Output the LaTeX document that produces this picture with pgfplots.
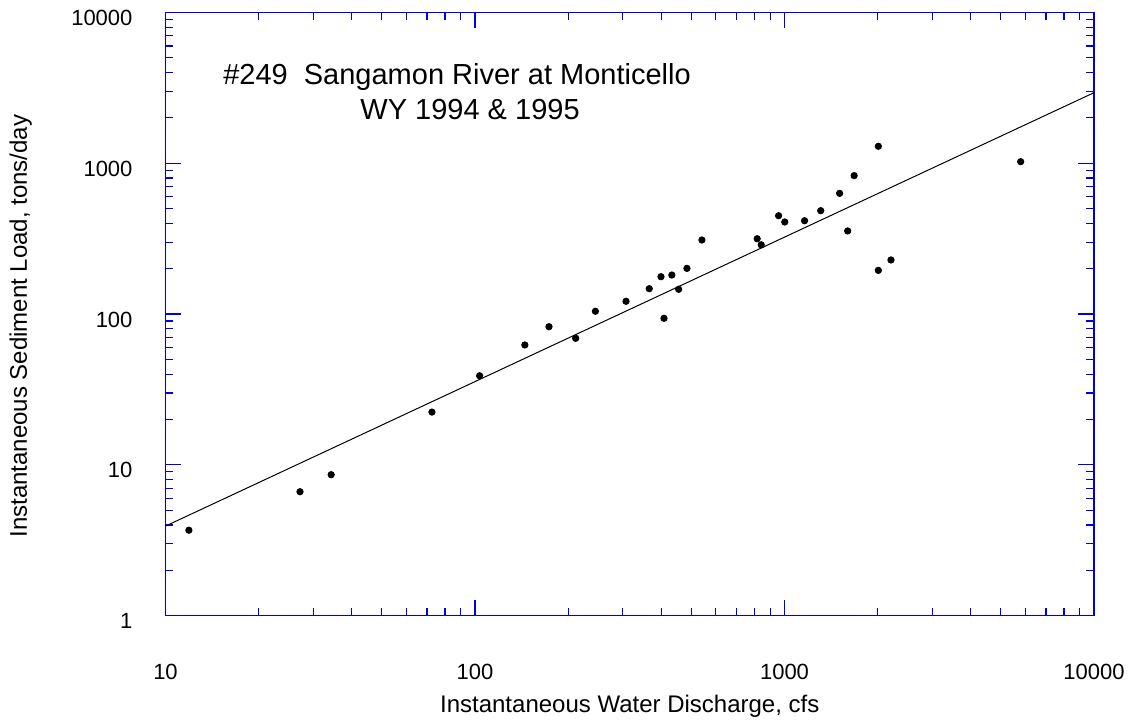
\documentclass[border=0pt]{standalone}
\usepackage{fontspec}
\setmainfont{Liberation Sans}
\usepackage{pgfplots}
\pgfplotsset{compat=1.18}

\definecolor{axblue}{RGB}{0,0,230}

\begin{document}
\begin{tikzpicture}
\begin{axis}[
  scale only axis,
  width=464.25bp, height=301.6bp,
  xmode=log, ymode=log,
  xmin=10, xmax=10000,
  ymin=1, ymax=10000,
  xtick={10,100,1000,10000},
  xticklabels={10,100,1000,10000},
  ytick={1,10,100,1000,10000},
  yticklabels={1,10,100,1000,10000},
  axis line style={axblue, line width=0.65bp},
  every tick/.style={axblue, line width=0.6bp},
  tick align=inside,
  major tick length=8bp,
  minor tick length=4bp,
  tick label style={font=\fontsize{11bp}{13bp}\selectfont},
  xticklabel style={yshift=-20.5bp},
  yticklabel style={xshift=-13bp, yshift=-2.75bp},
  xlabel={Instantaneous Water Discharge, cfs},
  ylabel={Instantaneous Sediment Load, tons/day},
  label style={font=\fontsize{12bp}{14bp}\selectfont},
  xlabel style={at={(axis description cs:0.5,0)}, anchor=base, yshift=-48.2bp},
  ylabel style={at={(axis description cs:-0.1492,0.48)}, anchor=base, rotate=0},
  clip=true,
]
% fitted rating curve
\addplot[black, line width=0.5bp] coordinates {(10,3.93) (10000,2940)};

% measured samples
\addplot[only marks, mark=*, mark size=1.6bp, black] coordinates {
  (11.9,3.69) (27.2,6.64) (34.3,8.61) (72.6,22.4) (103.5,39)
  (144.9,62.4) (173.4,82.5) (211.5,69.1) (244.9,104.4) (307.6,121.6)
  (365.6,147.4) (399,177) (408,93.8) (432.6,181.6) (455,146)
  (484,201) (541,310) (816,316) (841,288) (957,449)
  (1002,408) (1161,416) (1309,485) (1507,632) (1600,356)
  (1679,828) (2010,1297) (2010,195) (2208,228.6) (5795,1025)
};

\coordinate (ll) at (rel axis cs:0,0);
\coordinate (ur) at (rel axis cs:1,1);
\node[font=\fontsize{14.5bp}{17bp}\selectfont, anchor=base] at (rel axis cs:0.314,0.881) {\#249\ \ Sangamon River at Monticello};
\node[font=\fontsize{14.5bp}{17bp}\selectfont, anchor=base] at (rel axis cs:0.328,0.822) {WY 1994 \& 1995};
\end{axis}
\pgfresetboundingbox
\path[use as bounding box] ([shift={(-82.75bp,-52.65bp)}]ll) rectangle ([shift={(21.5bp,6.25bp)}]ur);
\end{tikzpicture}
\end{document}
